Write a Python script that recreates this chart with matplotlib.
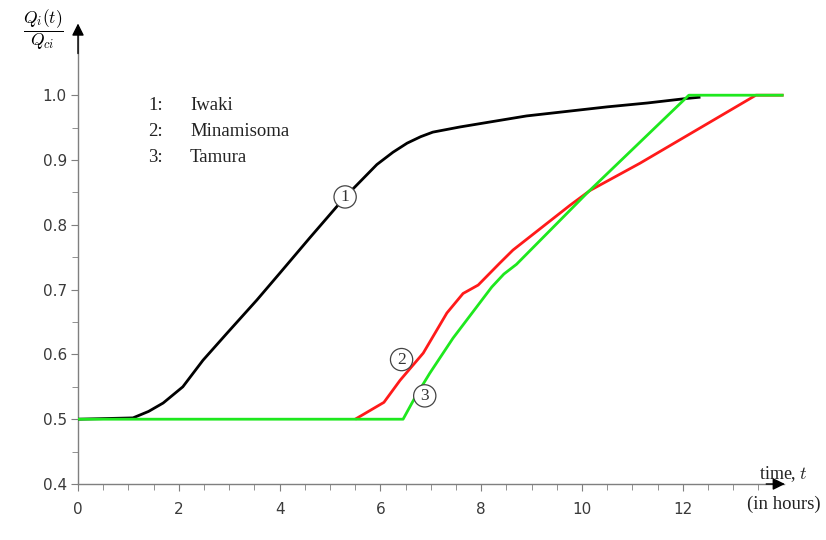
import matplotlib
matplotlib.use("Agg")
import matplotlib.pyplot as plt
import numpy as np

plt.rcParams["mathtext.fontset"] = "cm"

# Data
t_iwaki = [0.0, 1.09, 1.4, 1.69, 2.08, 2.48, 2.96, 3.55, 4.0, 4.6, 5.3, 5.93, 6.25, 6.53, 6.8, 7.04, 7.58, 8.2, 8.9, 9.7, 10.5, 11.3, 12.08, 12.35]
q_iwaki = [0.5, 0.502, 0.512, 0.525, 0.55, 0.591, 0.633, 0.684, 0.725, 0.78, 0.843, 0.893, 0.912, 0.926, 0.936, 0.943, 0.951, 0.959, 0.968, 0.975, 0.982, 0.988, 0.995, 0.997]

t_mina = [5.5, 6.07, 6.39, 6.85, 7.32, 7.64, 7.94, 8.37, 8.63, 9.76, 10.16, 11.15, 13.45, 14.0]
q_mina = [0.5, 0.526, 0.56, 0.602, 0.664, 0.694, 0.707, 0.741, 0.761, 0.83, 0.853, 0.895, 1.0, 1.0]

t_tamura = [0.0, 6.45, 6.69, 6.98, 7.44, 8.21, 8.45, 8.7, 10.1, 12.12, 14.0]
q_tamura = [0.5, 0.5, 0.534, 0.571, 0.625, 0.704, 0.724, 0.739, 0.849, 1.0, 1.0]

legend_lines = ["1:", "2:", "3:"]
legend_names = ["Iwaki", "Minamisoma", "Tamura"]
curve_labels = [("1", 5.3, 0.843), ("2", 6.42, 0.592), ("3", 6.88, 0.536)]

x_ticks = [0, 2, 4, 6, 8, 10, 12]
y_ticks = [0.4, 0.5, 0.6, 0.7, 0.8, 0.9, 1.0]

fig = plt.figure(figsize=(8.26, 5.4), dpi=100)
ax = fig.add_axes([78/826, 56/540, 705.6/826, 453.6/540])
ax.set_xlim(0, 14.0)
ax.set_ylim(0.4, 1.1)

axis_col = "#7f7f7f"
for s in ["top", "right"]:
    ax.spines[s].set_visible(False)
for s in ["left", "bottom"]:
    ax.spines[s].set_color(axis_col)
    ax.spines[s].set_linewidth(1.0)

ax.set_xticks(x_ticks)
ax.set_xticks(np.arange(0, 14.0, 0.5), minor=True)
ax.set_yticks(y_ticks)
ax.set_yticks(np.arange(0.4, 1.001, 0.05), minor=True)
ax.set_yticklabels([f"{v:.1f}" for v in y_ticks])
ax.tick_params(which="major", length=5, color=axis_col, labelsize=11, labelcolor="#3a3a3a", direction="out")
ax.tick_params(which="minor", length=4, color=axis_col, direction="out")
ax.tick_params(axis="x", pad=8)
ax.tick_params(axis="y", pad=3)

# Arrows
ax.annotate("", xy=(14.08, 0.4), xytext=(13.6, 0.4),
            arrowprops=dict(arrowstyle="-|>", color="black", lw=1.0, mutation_scale=18),
            annotation_clip=False)
ax.annotate("", xy=(0, 1.115), xytext=(0, 1.06),
            arrowprops=dict(arrowstyle="-|>", color="black", lw=1.0, mutation_scale=18),
            annotation_clip=False)

ax.plot(t_iwaki, q_iwaki, color="black", lw=2.0, solid_capstyle="butt", zorder=3)
ax.plot(t_mina, q_mina, color="#ff1a1a", lw=2.0, solid_capstyle="butt", zorder=4)
ax.plot(t_tamura, q_tamura, color="#1ee81e", lw=2.0, solid_capstyle="butt", zorder=5)

for lab, x, y in curve_labels:
    ax.text(x, y, lab, ha="center", va="center", fontsize=12.5, family="Liberation Serif",
            color="#333333", zorder=6,
            bbox=dict(boxstyle="circle,pad=0.18", fc="white", ec="#444444", lw=0.9))

for i, (a, b) in enumerate(zip(legend_lines, legend_names)):
    fig.text(148/826, 1 - (106 + i*26)/540, a, fontsize=13.5, family="Liberation Serif",
             va="center", ha="left", color="#222222")
    fig.text(190/826, 1 - (106 + i*26)/540, b, fontsize=13.5, family="Liberation Serif",
             va="center", ha="left", color="#222222")

fig.text(43/826, 1 - 30/540, r"$\dfrac{Q_i(t)}{Q_{ci}}$", fontsize=12.5, ha="center", va="center")
fig.text(759/826, 1 - 474/540, r"time, $t$", fontsize=13, family="Liberation Serif",
         ha="left", va="center", color="#222222")
fig.text(784/826, 1 - 504/540, "(in hours)", fontsize=13.5, family="Liberation Serif",
         ha="center", va="center", color="#222222")

fig.savefig("out.png", dpi=100)
